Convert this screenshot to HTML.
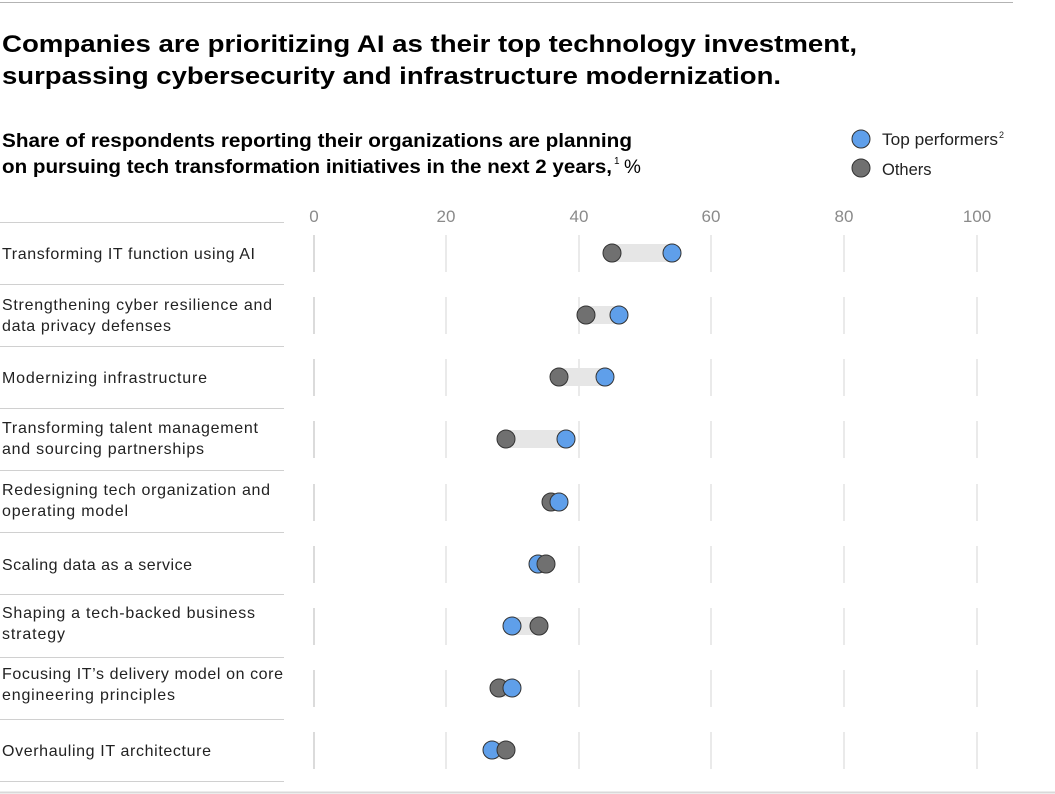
<!DOCTYPE html>
<html><head><meta charset="utf-8"><style>
html,body{margin:0;padding:0;background:#fff;}
svg{display:block;font-family:"Liberation Sans",sans-serif;}
</style></head><body>
<svg width="1055" height="794" viewBox="0 0 1055 794" xmlns="http://www.w3.org/2000/svg">
<line x1="0" y1="2.5" x2="1013" y2="2.5" stroke="#b3b3b3" stroke-width="1"/>
<line x1="0" y1="792.5" x2="1055" y2="792.5" stroke="#d9d9d9" stroke-width="2"/>
<text x="2" y="52" font-size="24" font-weight="bold" fill="#000" textLength="855" lengthAdjust="spacingAndGlyphs">Companies are prioritizing AI as their top technology investment,</text>
<text x="2" y="84" font-size="24" font-weight="bold" fill="#000" textLength="779" lengthAdjust="spacingAndGlyphs">surpassing cybersecurity and infrastructure modernization.</text>
<text x="2" y="147" font-size="19" font-weight="bold" fill="#000" textLength="630" lengthAdjust="spacingAndGlyphs">Share of respondents reporting their organizations are planning</text>
<text x="2" y="173" font-size="19" font-weight="bold" fill="#000" textLength="610" lengthAdjust="spacingAndGlyphs">on pursuing tech transformation initiatives in the next 2 years,</text>
<text x="614" y="164" font-size="10" fill="#000">1</text>
<text x="624" y="173" font-size="19" fill="#000">%</text>
<circle cx="861" cy="139" r="9" fill="#5F9FEA" stroke="#333" stroke-width="1"/>
<text x="882" y="145" font-size="16.5" fill="#222" textLength="116" lengthAdjust="spacingAndGlyphs">Top performers</text>
<text x="999" y="138" font-size="9" fill="#222">2</text>
<circle cx="861" cy="168" r="9" fill="#707070" stroke="#333" stroke-width="1"/>
<text x="882" y="175" font-size="16.5" fill="#222">Others</text>
<g font-size="17" fill="#8a8a8a" text-anchor="middle">
<text x="314" y="222">0</text><text x="446" y="222">20</text><text x="579" y="222">40</text><text x="711" y="222">60</text><text x="844" y="222">80</text><text x="977" y="222">100</text>
</g>
<g stroke="#d0d0d0" stroke-width="1">
<line x1="0" y1="222.5" x2="284" y2="222.5"/><line x1="0" y1="284.5" x2="284" y2="284.5"/><line x1="0" y1="346.5" x2="284" y2="346.5"/><line x1="0" y1="408.5" x2="284" y2="408.5"/><line x1="0" y1="470.5" x2="284" y2="470.5"/><line x1="0" y1="532.5" x2="284" y2="532.5"/><line x1="0" y1="594.5" x2="284" y2="594.5"/><line x1="0" y1="657.5" x2="284" y2="657.5"/><line x1="0" y1="719.5" x2="284" y2="719.5"/><line x1="0" y1="781.5" x2="284" y2="781.5"/>
</g>
<g id="grid" stroke="#e2e2e2" stroke-width="1.5">
</g>
<script>
var ys=[253,315,377,439,502,564,626,688,750];
var gx=[314,446,579,711,844,977];
var g=document.getElementById('grid');var ns='http://www.w3.org/2000/svg';
ys.forEach(function(y){gx.forEach(function(x,i){var l=document.createElementNS(ns,'line');l.setAttribute('x1',x);l.setAttribute('x2',x);l.setAttribute('y1',y-18);l.setAttribute('y2',y+19);if(i==0)l.setAttribute('stroke','#cfcfcf');g.appendChild(l);});});
</script>
<g fill="#e6e6e6">
<rect x="612" y="244" width="60" height="18"/>
<rect x="586" y="306" width="33" height="18"/>
<rect x="559" y="368" width="46" height="18"/>
<rect x="506" y="430" width="60" height="18"/>
<rect x="551" y="493" width="8" height="18"/>
<rect x="538" y="555" width="8" height="18"/>
<rect x="512" y="617" width="27" height="18"/>
<rect x="499" y="679" width="13" height="18"/>
<rect x="492" y="741" width="14" height="18"/>
</g>
<g stroke="#333" stroke-width="1">
<circle cx="612" cy="253" r="9" fill="#707070"/><circle cx="672" cy="253" r="9" fill="#5F9FEA"/>
<circle cx="586" cy="315" r="9" fill="#707070"/><circle cx="619" cy="315" r="9" fill="#5F9FEA"/>
<circle cx="559" cy="377" r="9" fill="#707070"/><circle cx="605" cy="377" r="9" fill="#5F9FEA"/>
<circle cx="506" cy="439" r="9" fill="#707070"/><circle cx="566" cy="439" r="9" fill="#5F9FEA"/>
<circle cx="551" cy="502" r="9" fill="#707070"/><circle cx="559" cy="502" r="9" fill="#5F9FEA"/>
<circle cx="538" cy="564" r="9" fill="#5F9FEA"/><circle cx="546" cy="564" r="9" fill="#707070"/>
<circle cx="512" cy="626" r="9" fill="#5F9FEA"/><circle cx="539" cy="626" r="9" fill="#707070"/>
<circle cx="499" cy="688" r="9" fill="#707070"/><circle cx="512" cy="688" r="9" fill="#5F9FEA"/>
<circle cx="492" cy="750" r="9" fill="#5F9FEA"/><circle cx="506" cy="750" r="9" fill="#707070"/>
</g>
<g font-size="16" fill="#222" lengthAdjust="spacingAndGlyphs">
<text x="2" y="259" textLength="253">Transforming IT function using AI</text>
<text x="2" y="310" textLength="270">Strengthening cyber resilience and</text>
<text x="2" y="331" textLength="169">data privacy defenses</text>
<text x="2" y="383" textLength="205">Modernizing infrastructure</text>
<text x="2" y="433" textLength="256">Transforming talent management</text>
<text x="2" y="454" textLength="202">and sourcing partnerships</text>
<text x="2" y="495" textLength="268">Redesigning tech organization and</text>
<text x="2" y="516" textLength="126">operating model</text>
<text x="2" y="570" textLength="190">Scaling data as a service</text>
<text x="2" y="618" textLength="253">Shaping a tech-backed business</text>
<text x="2" y="639" textLength="63">strategy</text>
<text x="2" y="679" textLength="281">Focusing IT’s delivery model on core</text>
<text x="2" y="700" textLength="173">engineering principles</text>
<text x="2" y="756" textLength="209">Overhauling IT architecture</text>
</g>
</svg>
</body></html>
